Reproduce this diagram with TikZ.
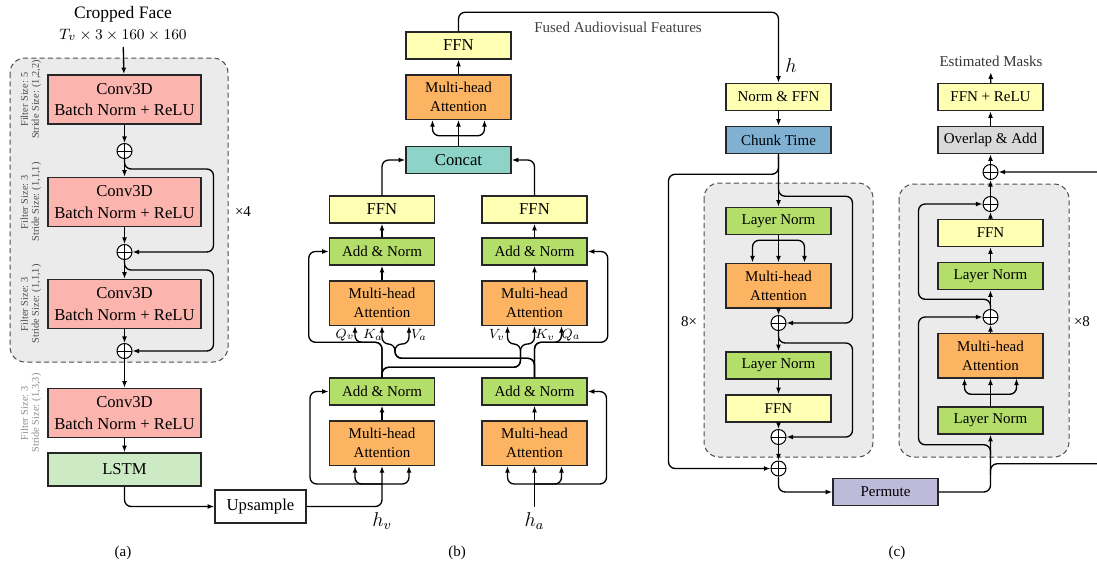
\documentclass[tikz,border=0pt]{standalone}
\usepackage{fontspec}
\setmainfont{Liberation Serif}
\usetikzlibrary{calc,arrows.meta}

\definecolor{convred}{HTML}{FBB4AE}
\definecolor{lstmgreen}{HTML}{CCEBC5}
\definecolor{ffnyellow}{HTML}{FFFFB3}
\definecolor{normgreen}{HTML}{B3DE69}
\definecolor{mhaorange}{HTML}{FDB462}
\definecolor{concatteal}{HTML}{8DD3C7}
\definecolor{chunkblue}{HTML}{80B1D3}
\definecolor{permpurple}{HTML}{BEBADA}
\definecolor{ovlgray}{HTML}{D9D9D9}
\definecolor{bggray}{HTML}{EBEBEB}

\begin{document}
\begin{tikzpicture}[x=0.6pt, y=-0.6pt, >={Latex[length=4pt,width=3pt]},
  box/.style={draw=black!85, line width=0.9pt, inner sep=0pt, align=center,
    minimum width=63pt, minimum height=16.2pt, font=\fontsize{9}{11.5}\selectfont},
  big/.style={font=\fontsize{10}{13}\selectfont},
  conv/.style={box, big, fill=convred, minimum width=91.8pt, minimum height=29.4pt},
  ffnbox/.style={box, fill=ffnyellow},
  normbox/.style={box, fill=normgreen},
  mhabox/.style={box, fill=mhaorange, minimum height=26.7pt},
  sumnode/.style={circle, draw, line width=0.6pt, fill=white, minimum size=9pt, inner sep=0pt,
    path picture={\draw[line width=0.5pt] (path picture bounding box.north) -- (path picture bounding box.south)
      (path picture bounding box.west) -- (path picture bounding box.east);}},
  wire/.style={line width=0.8pt, rounded corners=4pt},
  bg/.style={draw=black!70, line width=0.6pt, dash pattern=on 3pt off 2pt, fill=bggray, rounded corners=9pt},
  lbl/.style={font=\fontsize{9}{11}\selectfont},
  side/.style={rotate=90, align=center, font=\fontsize{6.2}{6.6}\selectfont},
  qkv/.style={font=\fontsize{8}{9}\selectfont}
]
\useasboundingbox (0,0) rectangle (1097,561);

%% (a) visual front-end
\node[font=\fontsize{10.5}{12}\selectfont] (face) at (123,14) {Cropped Face};
\node[font=\fontsize{9.5}{11}\selectfont] (facedim) at (123,35) {$T_v\times3\times160\times160$};
\draw[bg] (10,58) rectangle (228,362);
\foreach \n/\y/\f/\s in {c1/99.5/5/{(1,2,2)}, c2/202/3/{(1,1,1)}, c3/304/3/{(1,1,1)}}
  {
  \node[conv] (\n) at (124.5,\y) {Conv3D\\Batch Norm + ReLU};
  \node[side, text=black!70] (\n side) at (31,\y) {Filter Size: \f\\Stride Size: \s};
  }
\node[conv] (c4) at (124.5,413) {Conv3D\\Batch Norm + ReLU};
\node[side, text=black!45] (c4side) at (31,413) {Filter Size: 3\\Stride Size: (1,3,3)};
\foreach \n/\y in {s1/151, s2/252, s3/351}
  \node[sumnode] (\n) at (124.5,\y) {};
\node[box, big, fill=lstmgreen, minimum width=91.8pt, minimum height=19.8pt] (lstm) at (124.5,469.5) {LSTM};
\node[box, big, minimum width=54.6pt, minimum height=19.8pt] (ups) at (260.5,506.5) {Upsample};
\node[lbl] (rep4) at (243,212) {×4};

\foreach \a/\b in {facedim/c1, c1/s1, s1/c2, c2/s2, s2/c3, c3/s3, s3/c4, c4/lstm}
  \draw[wire,->] (\a) -- (\b);
% residual skips
\draw[wire,->] (s1.south) |- ($(s1.south)+(89,10)$) |- (s2);
\draw[wire,->] (s2.south) |- ($(s2.south)+(89,10)$) |- (s3);
\draw[wire,->] (lstm) |- (ups);
\node[lbl] (capa) at (123,553) {(a)};

%% (b) cross-modal attention
\node[box, big, fill=concatteal] (concat) at (458.5,160) {Concat};
\node[mhabox] (tmha) at (458.5,97) {Multi-head\\Attention};
\node[ffnbox, big] (tffn) at (458.5,45.5) {FFN};
\node[lbl, text=black!75] (fused) at (618,27) {Fused Audiovisual Features};
\foreach \col/\x/\d in {l/382/-1, r/534.5/1}
  {
  \node[ffnbox, big] (\col ffn) at (\x,209.5) {FFN};
  \node[normbox] (\col add) at (\x,251.5) {Add \& Norm};
  \node[mhabox] (\col mha) at (\x,303) {Multi-head\\Attention};
  \node[normbox] (\col add0) at (\x,391.5) {Add \& Norm};
  \node[mhabox] (\col mha0) at (\x,443) {Multi-head\\Attention};
  \draw[wire,->] (\col mha0) -- (\col add0);
  \draw[wire,->] (\col mha) -- (\col add);
  \draw[wire,->] (\col add) -- (\col ffn);
  \draw[wire,->] (\col ffn) |- (concat);
  % self-attention inputs + residual
  \draw[wire,->] ($(\col mha0.south)+(0,18)$) -| ($(\col mha0.south)+(-27,0)$);
  \draw[wire,->] ($(\col mha0.south)+(0,18)$) -| ($(\col mha0.south)+(27,0)$);
  \draw[wire,->] ($(\col mha0.south)+(0,18)$) -| ($(\col add0.center)+(\d*72,0)$) -- (\col add0);
  }
\draw[wire,->] (concat) -- (tmha);
\draw[wire,->] ($(concat.north)+(0,-10)$) -| ($(tmha.south)+(-26,0)$);
\draw[wire,->] ($(concat.north)+(0,-10)$) -| ($(tmha.south)+(26,0)$);
\draw[wire,->] (tmha) -- (tffn);

% cross connections
\draw[wire,->] (ladd0.north) -- ++(0,-35) -| ($(lmha.south)+(-27,0)$);
\draw[wire,->] (ladd0.north) -- ++(0,-35) -| ($(ladd.west)+(-20,0)$) -- (ladd);
\draw[wire,->] (ladd0.north) -- ++(0,-10) -| ($(rmha.south)+(-14,18)$) -| ($(rmha.south)+(-27,0)$);
\draw[wire,->] (ladd0.north) -- ++(0,-10) -| ($(rmha.south)+(-14,18)$) -| (rmha);
\draw[wire,->] (radd0.north) -- ++(0,-19) -| ($(lmha.south)+(13,18)$) -| (lmha);
\draw[wire,->] (radd0.north) -- ++(0,-19) -| ($(lmha.south)+(13,18)$) -| ($(lmha.south)+(27,0)$);
\draw[wire,->] (radd0.north) -- ++(0,-35) -| ($(rmha.south)+(27,0)$);
\draw[wire,->] (radd0.north) -- ++(0,-35) -| ($(radd.east)+(20,0)$) -- (radd);
\node[qkv] (qv) at (345,335) {$Q_v$};
\node[qkv] (ka) at (373,335) {$K_a$};
\node[qkv] (va) at (419,335) {$V_a$};
\node[qkv] (vv) at (497,335) {$V_v$};
\node[qkv] (kv) at (545,335) {$K_v$};
\node[qkv] (qa) at (571,335) {$Q_a$};

\node[font=\large] (hv) at (382,521) {$h_v$};
\node[font=\large] (ha) at (534.5,521) {$h_a$};
\draw[wire,->] (ups) -| (lmha0);
\draw[wire,->] (ha) -- (rmha0);
\node[lbl] (capb) at (457,553) {(b)};

%% (c) separator: intra-chunk
\node[ffnbox] (nffn) at (778.5,97) {Norm \& FFN};
\node[box, fill=chunkblue] (chunk) at (778.5,140) {Chunk Time};
\node[font=\large] (hin) at (791,66) {$h$};
\draw[wire,->] (tffn.north) -- ++(0,-19) -| (nffn);
\draw[bg] (704,183) rectangle (873,457);
\node[normbox] (ln1) at (778.5,221) {Layer Norm};
\node[mhabox] (cmha) at (778.5,285.5) {Multi-head\\Attention};
\node[sumnode] (cs1) at (778.5,323) {};
\node[normbox] (ln2) at (778.5,365.5) {Layer Norm};
\node[ffnbox] (cffn) at (778.5,408.5) {FFN};
\node[sumnode] (cs2) at (778.5,437) {};
\node[sumnode] (cs3) at (778.5,468.5) {};
\node[box, fill=permpurple] (perm) at (885.5,492) {Permute};
\node[lbl] (rep8a) at (689,322) {8×};
\foreach \a/\b in {nffn/chunk, chunk/ln1, ln1/cmha, cmha/cs1, cs1/ln2, ln2/cffn, cffn/cs2, cs2/cs3}
  \draw[wire,->] (\a) -- (\b);
\draw[wire,->] ($(ln1.south)+(0,5)$) -| ($(cmha.north)+(-26,0)$);
\draw[wire,->] ($(ln1.south)+(0,5)$) -| ($(cmha.north)+(26,0)$);
\draw[wire,->] (chunk.south) |- ($(chunk.south)+(-110,20)$) |- (cs3);
\draw[wire,->] (chunk.south) |- ($(chunk.south)+(74,42)$) |- (cs1);
\draw[wire,->] (cs1.south) |- ($(cs1.south)+(74,12)$) |- (cs2);
\draw[wire,->] (cs3) |- (perm);

%% (c) separator: inter-chunk
\node[lbl, text=black!80] (masks) at (991,61) {Estimated Masks};
\node[ffnbox] (frelu) at (990.5,97) {FFN + ReLU};
\node[box, fill=ovlgray] (ovl) at (990.5,140) {Overlap \& Add};
\node[sumnode] (rs0) at (990.5,172) {};
\draw[bg] (899,184) rectangle (1069,457);
\node[sumnode] (rs1) at (990.5,204) {};
\node[ffnbox] (dffn) at (990.5,233) {FFN};
\node[normbox] (dln2) at (990.5,276) {Layer Norm};
\node[sumnode] (rs2) at (990.5,317) {};
\node[mhabox] (dmha) at (990.5,355.5) {Multi-head\\Attention};
\node[normbox] (dln1) at (990.5,420.5) {Layer Norm};
\node[lbl] (rep8b) at (1082,322) {×8};
\foreach \a/\b in {dln1/dmha, dmha/rs2, rs2/dln2, dln2/dffn, dffn/rs1, rs1/rs0, rs0/ovl, ovl/frelu, frelu/masks}
  \draw[wire,->] (\a) -- (\b);
\draw[wire,->] ($(dln1.north)+(0,-12)$) -| ($(dmha.south)+(-26,0)$);
\draw[wire,->] ($(dln1.north)+(0,-12)$) -| ($(dmha.south)+(26,0)$);
\draw[wire,->] (perm) -| (dln1);
\draw[wire,->] ($(dln1.south)+(0,20)$) |- ($(dln1.south)+(-72,10)$) |- (rs2);
\draw[wire,->] ($(dln2.south)+(0,18)$) |- ($(dln2.south)+(-72,9)$) |- (rs1);
\draw[wire,->] ($(dln1.south)+(0,40)$) |- ($(dln1.south)+(115,29)$) |- (rs0);
\node[lbl] (capc) at (897,553) {(c)};

\end{tikzpicture}
\end{document}
